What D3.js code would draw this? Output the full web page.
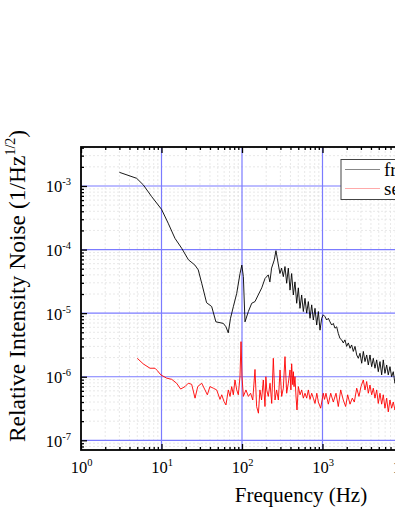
<!DOCTYPE html>
<html>
<head>
<meta charset="utf-8">
<script src="https://cdn.jsdelivr.net/npm/d3@7"></script>
<style>
  html, body { margin: 0; padding: 0; background: #fff; }
  svg { display: block; }
  text { font-family: "Liberation Serif", "Times New Roman", serif; fill: #000; }
</style>
</head>
<body>
<svg id="chart" width="395" height="511"></svg>
<script>
// ---------- data ----------
const xTickExponents = [0, 1, 2, 3, 4];
const yTickExponents = [-7, -6, -5, -4, -3];
const seriesNames = ["free running", "servo on"];
const seriesColors = ["#000000", "#ff0000"];

const freeRunning = [
  [3,1.64e-3],[4.92,1.32e-3],[5.94,1.04e-3],[7.55,6.8e-4],[10,4.3e-4],[12.1,2.6e-4],[14.7,1.5e-4],
  [17.8,1.05e-4],[21.6,6.9e-5],[26,5.7e-5],[28.6,4.8e-5],[31.6,2.95e-5],[36.3,1.46e-5],[42,1.27e-5],
  [47.4,7.3e-6],[58.6,6.9e-6],[63.2,6.1e-6],[67.5,4.9e-6],[72,8.3e-6],[78,1.26e-5],[86,2.05e-5],
  [94.5,4.2e-5],[99.5,5.7e-5],[104,3.75e-5],[109,7.3e-6],[120,1.06e-5],[132,1.43e-5],[145,1.52e-5],
  [159,1.93e-5],[176,2.5e-5],[193,3.5e-5],[212,4.0e-5],[222,3.1e-5],[233,5.1e-5],[252,6.9e-5],
  [264,9.6e-5],[281,6.1e-5],[296,4.2e-5],[310,5.1e-5],[326,3.75e-5],[342,5.4e-5],[359,2.95e-5],
  [376,5.1e-5],[395,2.3e-5],[414,4.2e-5],[434,1.93e-5],[455,3.1e-5],[478,1.43e-5],[501,2.5e-5],
  [525,1.19e-5],[551,1.93e-5],[578,1.06e-5],[606,1.71e-5],[636,1.0e-5],[667,1.52e-5],[700,8.3e-6],
  [734,1.35e-5],[769,7.8e-6],[807,1.19e-5],[847,6.5e-6],[888,1.06e-5],[931,5.4e-6],[977,8.3e-6],
  [1023,9.4e-6],[1074,8.8e-6],[1127,7.8e-6],[1181,8.3e-6],[1239,7.3e-6],[1300,6.5e-6],[1362,6.9e-6],
  [1429,5.8e-6],[1500,6.1e-6],[1571,4.8e-6],[1648,4.0e-6],[1730,3.8e-6],[1812,3.4e-6],[1901,3.8e-6],
  [1995,3.0e-6],[2094,3.4e-6],[2198,2.8e-6],[2302,3.16e-6],[2415,2.5e-6],[2535,3.0e-6],[2661,2.2e-6],
  [2786,1.95e-6],[2924,2.34e-6],[3069,1.63e-6],[3214,2.5e-6],[3373,1.73e-6],[3540,2.2e-6],[3707,1.53e-6],
  [3890,2.2e-6],[4083,1.44e-6],[4276,1.95e-6],[4487,1.36e-6],[4710,1.84e-6],[4932,1.2e-6],[5176,1.73e-6],
  [5433,1.07e-6],[5689,1.84e-6],[5970,1.13e-6],[6266,1.53e-6],[6561,1.07e-6],[6887,1.44e-6],[7228,1.0e-6],
  [7568,1.2e-6],[7943,7.9e-7],[8500,1.0e-6],[9200,7.5e-7],[10000,8.0e-7]
];

const servoOn = [
  [5,1.95e-6],[5.94,1.59e-6],[7.2,1.36e-6],[8.3,1.36e-6],[8.87,1.25e-6],[9.8,1.07e-6],[11.6,9.5e-7],
  [13.4,9.1e-7],[15.4,7.9e-7],[17.3,6.4e-7],[19.6,7.0e-7],[21.5,7.9e-7],[23.7,7.6e-7],[26.1,4.6e-7],
  [28.2,7.0e-7],[31.6,7.9e-7],[34.7,6.2e-7],[37.1,5.2e-7],[40,7.0e-7],[44,6.6e-7],[48.5,6.2e-7],
  [53.3,4.4e-7],[56,5.2e-7],[59.7,4.1e-7],[63.2,3.6e-7],[67.6,6.2e-7],[71,4.9e-7],[74.5,7.0e-7],
  [78,5.2e-7],[81.8,8.9e-7],[86,6.2e-7],[90,5.2e-7],[94.4,1.0e-6],[97.2,3.56e-6],[100,1.0e-6],
  [104,4.9e-7],[112,6.2e-7],[120,4.9e-7],[128,5.5e-7],[136,4.3e-7],[145,1.3e-6],[152,3.4e-7],
  [160,2.67e-7],[167,6.2e-7],[175,4.3e-7],[184,8.9e-7],[193,3.4e-7],[198,1.0e-6],[203,6.2e-7],
  [212,4.9e-7],[223,7.9e-7],[234,3.8e-7],[245,1.95e-6],[257,4.3e-7],[269,6.2e-7],[283,4.3e-7],
  [297,1.28e-6],[311,4.9e-7],[326,6.6e-7],[342,2.07e-6],[359,5.5e-7],[376,7.9e-7],[395,1.28e-6],
  [405,6.2e-7],[414,1.6e-6],[427,7.5e-7],[435,1.2e-6],[443,7.0e-7],[455,1.0e-6],[468,5.0e-7],
  [482,3.0e-7],[501,7.0e-7],[526,5.2e-7],[551,6.2e-7],[578,4.6e-7],[606,5.5e-7],[636,4.6e-7],
  [667,6.2e-7],[700,4.4e-7],[734,5.5e-7],[769,4.6e-7],[807,3.8e-7],[850,5.5e-7],[888,4.0e-7],
  [949,3.2e-7],[1023,5.5e-7],[1060,4.4e-7],[1104,5.5e-7],[1181,3.7e-7],[1265,5.5e-7],[1362,4.0e-7],
  [1472,5.5e-7],[1571,3.4e-7],[1683,6.2e-7],[1812,4.3e-7],[1940,3.4e-7],[2054,5.2e-7],[2198,3.7e-7],
  [2345,4.6e-7],[2485,4.0e-7],[2661,6.6e-7],[2839,4.9e-7],[3006,7.0e-7],[3214,8.9e-7],[3373,6.2e-7],
  [3540,8.4e-7],[3707,5.5e-7],[3890,7.4e-7],[4083,5.2e-7],[4276,6.6e-7],[4487,4.6e-7],[4710,6.2e-7],
  [4932,3.8e-7],[5176,5.5e-7],[5433,3.7e-7],[5689,5.2e-7],[5970,3.2e-7],[6266,4.6e-7],[6561,2.8e-7],
  [6887,4.3e-7],[7228,3.2e-7],[7568,4.0e-7],[7943,3.0e-7],[8500,3.8e-7],[9200,2.9e-7],[10000,3.5e-7]
];

// ---------- layout ----------
const plot = { left: 81, top: 147, right: 403, bottom: 450 };
const svg = d3.select("#chart");

const x = d3.scaleLog().domain([1, 1e4]).range([plot.left, plot.right]);
const y = d3.scaleLog().domain([7.04e-8, 4.103e-3]).range([plot.bottom, plot.top]);

const xMajor = xTickExponents.map(e => Math.pow(10, e));
const yMajor = yTickExponents.map(e => Math.pow(10, e));
const xMinor = [];
for (let e = 0; e < 4; e++) for (let m = 2; m <= 9; m++) xMinor.push(m * Math.pow(10, e));
const yMinor = [];
for (let e = -8; e <= -3; e++) for (let m = 2; m <= 9; m++) {
  const v = m * Math.pow(10, e);
  if (v >= y.domain()[0] && v <= y.domain()[1]) yMinor.push(v);
}

// clip
svg.append("defs").append("clipPath").attr("id", "clip")
  .append("rect").attr("x", plot.left).attr("y", plot.top)
  .attr("width", plot.right - plot.left).attr("height", plot.bottom - plot.top);

// minor grid
const grid = svg.append("g");
grid.selectAll("line.xmin").data(xMinor).enter().append("line")
  .attr("x1", d => x(d)).attr("x2", d => x(d)).attr("y1", plot.top).attr("y2", plot.bottom)
  .attr("stroke", "#e2e2e2").attr("stroke-width", 0.8).attr("stroke-dasharray", "2,2");
grid.selectAll("line.ymin").data(yMinor).enter().append("line")
  .attr("y1", d => y(d)).attr("y2", d => y(d)).attr("x1", plot.left).attr("x2", plot.right)
  .attr("stroke", "#e2e2e2").attr("stroke-width", 0.8).attr("stroke-dasharray", "2,2");
// major grid
grid.selectAll("line.xmaj").data(xMajor.slice(1)).enter().append("line")
  .attr("x1", d => x(d)).attr("x2", d => x(d)).attr("y1", plot.top).attr("y2", plot.bottom)
  .attr("stroke", "#7b7bff").attr("stroke-width", 1.2);
grid.selectAll("line.ymaj").data(yMajor).enter().append("line")
  .attr("y1", d => y(d)).attr("y2", d => y(d)).attr("x1", plot.left).attr("x2", plot.right)
  .attr("stroke", "#7b7bff").attr("stroke-width", 1.2);

// data lines
const line = d3.line().x(d => x(d[0])).y(d => y(d[1]));
const lines = svg.append("g").attr("clip-path", "url(#clip)");
[freeRunning, servoOn].forEach((s, i) => {
  lines.append("path").datum(s).attr("d", line)
    .attr("fill", "none").attr("stroke", seriesColors[i]).attr("stroke-width", 0.9)
    .attr("stroke-linejoin", "round");
});

// axes (ticks inward)
function styleAxis(g) {
  g.select(".domain").remove();
  g.selectAll(".tick line").attr("stroke", "#000").attr("stroke-width", 1.3);
}
svg.append("g").attr("transform", `translate(0,${plot.bottom})`)
  .call(d3.axisBottom(x).tickValues(xMinor).tickSize(-3).tickFormat(""))
  .call(styleAxis);
svg.append("g").attr("transform", `translate(0,${plot.top})`)
  .call(d3.axisTop(x).tickValues(xMinor).tickSize(-3).tickFormat(""))
  .call(styleAxis);
svg.append("g").attr("transform", `translate(0,${plot.top})`)
  .call(d3.axisTop(x).tickValues(xMajor).tickSize(-6).tickFormat(""))
  .call(styleAxis);
svg.append("g").attr("transform", `translate(${plot.left},0)`)
  .call(d3.axisLeft(y).tickValues(yMinor).tickSize(-3).tickFormat(""))
  .call(styleAxis);

const xAxisG = svg.append("g").attr("transform", `translate(0,${plot.bottom})`)
  .call(d3.axisBottom(x).tickValues(xMajor).tickSize(-6).tickPadding(18).tickFormat(""))
  .call(styleAxis);
xAxisG.selectAll(".tick").each(function(d, i) {
  const t = d3.select(this).append("text")
    .attr("y", 23).attr("text-anchor", "middle").attr("font-size", 16.5).attr("fill", "#000");
  t.append("tspan").text("10");
  t.append("tspan").attr("dy", -7).attr("font-size", 10.5).text(String(xTickExponents[i]));
});

const yAxisG = svg.append("g").attr("transform", `translate(${plot.left},0)`)
  .call(d3.axisLeft(y).tickValues(yMajor).tickSize(-6).tickFormat(""))
  .call(styleAxis);
yAxisG.selectAll(".tick").each(function(d, i) {
  const t = d3.select(this).append("text")
    .attr("x", -10).attr("y", 6).attr("text-anchor", "end").attr("font-size", 16.5).attr("fill", "#000");
  t.append("tspan").text("10");
  t.append("tspan").attr("dy", -7).attr("font-size", 10.5).text(String(yTickExponents[i]));
});

// frame
svg.append("rect").attr("x", plot.left).attr("y", plot.top)
  .attr("width", plot.right - plot.left).attr("height", plot.bottom - plot.top)
  .attr("fill", "none").attr("stroke", "#000").attr("stroke-width", 1.8);

// axis titles
svg.append("text").attr("x", 301).attr("y", 502).attr("text-anchor", "middle")
  .attr("font-size", 21).text("Frequency (Hz)");
const yt = svg.append("text").attr("transform", "translate(25,286) rotate(-90)")
  .attr("text-anchor", "middle").attr("font-size", 23.5);
yt.append("tspan").text("Relative Intensity Noise (1/Hz");
yt.append("tspan").attr("dy", -10).attr("font-size", 14).text("1/2");
yt.append("tspan").attr("dy", 10).text(")");

// legend
const lg = svg.append("g");
lg.append("rect").attr("x", 341).attr("y", 159.5).attr("width", 110).attr("height", 40)
  .attr("fill", "#fff").attr("stroke", "#444").attr("stroke-width", 1);
seriesNames.forEach((name, i) => {
  const yy = 169.5 + i * 19;
  lg.append("line").attr("x1", 345).attr("x2", 380).attr("y1", yy).attr("y2", yy)
    .attr("stroke", i === 0 ? "#888" : "#ffaaaa").attr("stroke-width", 1.2);
  lg.append("text").attr("x", 384).attr("y", yy + 6).attr("font-size", 19).text(name);
});
</script>
</body>
</html>
